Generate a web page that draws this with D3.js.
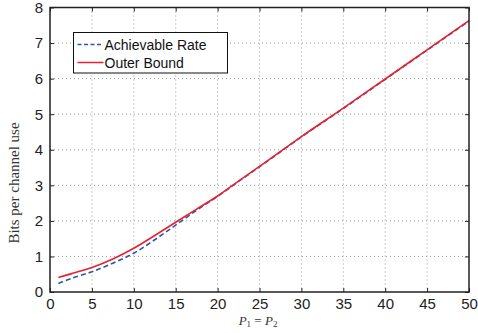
<!DOCTYPE html>
<html>
<head>
<meta charset="utf-8">
<script src="https://cdn.jsdelivr.net/npm/d3@7"></script>
<style>
  body { margin: 0; background: #fff; }
  svg { display: block; }
  .tick text { font-family: "Liberation Sans", Arial, sans-serif; font-size: 15px; fill: #222; }
</style>
</head>
<body>
<svg id="chart" width="478" height="333"></svg>
<script>
// power values (P1 = P2)
const power = [1, 2.5, 5, 7.5, 10, 12.5, 15, 17.5, 20, 22.5, 25, 30, 35, 40, 45, 50];
// bits per channel use
const achievableRate = [0.24, 0.38, 0.57, 0.81, 1.09, 1.47, 1.88, 2.30, 2.69, 3.11, 3.52, 4.36, 5.16, 5.98, 6.80, 7.62];
const outerBound = [0.41, 0.51, 0.69, 0.93, 1.23, 1.59, 1.96, 2.33, 2.70, 3.12, 3.53, 4.37, 5.17, 5.99, 6.81, 7.63];
const xTicks = [0, 5, 10, 15, 20, 25, 30, 35, 40, 45, 50];
const yTicks = [0, 1, 2, 3, 4, 5, 6, 7, 8];

const margin = { top: 7.5, right: 9, bottom: 41, left: 50 };
const width = 478 - margin.left - margin.right;
const height = 333 - margin.top - margin.bottom;

let svg = d3.select('#chart');
let g = svg.append('g').attr('transform', 'translate(' + margin.left + ',' + margin.top + ')');

let x = d3.scaleLinear().domain([0, 50]).range([0, width]);
let y = d3.scaleLinear().domain([0, 8]).range([height, 0]);

// dotted grid
g.append('g')
  .selectAll('line')
  .data(xTicks.slice(1, -1))
  .join('line')
    .attr('x1', d => x(d)).attr('x2', d => x(d))
    .attr('y1', 0).attr('y2', height)
    .attr('stroke', '#999').attr('stroke-width', 1)
    .attr('stroke-dasharray', '1,3');
g.append('g')
  .selectAll('line')
  .data(yTicks.slice(1, -1))
  .join('line')
    .attr('x1', 0).attr('x2', width)
    .attr('y1', d => y(d)).attr('y2', d => y(d))
    .attr('stroke', '#999').attr('stroke-width', 1)
    .attr('stroke-dasharray', '1,3');

// curves
let line = d3.line().curve(d3.curveCatmullRom.alpha(0.5));
let achievablePts = power.map((p, i) => [x(p), y(achievableRate[i])]);
let outerPts = power.map((p, i) => [x(p), y(outerBound[i])]);

g.append('path')
  .attr('d', line(achievablePts))
  .attr('fill', 'none')
  .attr('stroke', '#2e52b0')
  .attr('stroke-width', 1.6)
  .attr('stroke-dasharray', '5,3');

g.append('path')
  .attr('d', line(outerPts))
  .attr('fill', 'none')
  .attr('stroke', '#e8222c')
  .attr('stroke-width', 1.6);

// axes with inward ticks on all four sides
g.append('g')
  .attr('transform', 'translate(0,' + height + ')')
  .call(d3.axisBottom(x).tickValues(xTicks).tickSizeInner(-4).tickSizeOuter(0).tickPadding(6))
  .call(a => a.select('.domain').remove());
g.append('g')
  .call(d3.axisLeft(y).tickValues(yTicks).tickSizeInner(-4).tickSizeOuter(0).tickPadding(7))
  .call(a => a.select('.domain').remove());
g.append('g')
  .call(d3.axisTop(x).tickValues(xTicks).tickSizeInner(-4).tickSizeOuter(0).tickFormat(''))
  .call(a => a.select('.domain').remove());
g.append('g')
  .attr('transform', 'translate(' + width + ',0)')
  .call(d3.axisRight(y).tickValues(yTicks).tickSizeInner(-4).tickSizeOuter(0).tickFormat(''))
  .call(a => a.select('.domain').remove());
g.selectAll('.tick line').attr('stroke', '#222');

g.append('rect')
  .attr('width', width).attr('height', height)
  .attr('fill', 'none').attr('stroke', '#222').attr('stroke-width', 1.5);

// axis labels
svg.append('text')
  .attr('transform', 'translate(19,183) rotate(-90)')
  .attr('text-anchor', 'middle')
  .attr('font-family', '"Liberation Serif", "Times New Roman", serif')
  .attr('font-size', 15)
  .attr('fill', '#333')
  .text('Bits per channel use');

let xl = svg.append('text')
  .attr('x', 258).attr('y', 325)
  .attr('text-anchor', 'middle')
  .attr('font-family', '"Liberation Serif", "Times New Roman", serif')
  .attr('font-size', 13)
  .attr('fill', '#333');
xl.append('tspan').attr('font-style', 'italic').text('P');
xl.append('tspan').attr('font-size', 9).attr('dy', 2).text('1');
xl.append('tspan').attr('dy', -2).text(' = ');
xl.append('tspan').attr('font-style', 'italic').text('P');
xl.append('tspan').attr('font-size', 9).attr('dy', 2).text('2');

// legend
let legend = svg.append('g').attr('transform', 'translate(73.5,32.5)');
legend.append('rect')
  .attr('width', 154).attr('height', 40.5)
  .attr('fill', '#fff').attr('stroke', '#111').attr('stroke-width', 1);
let legendItems = [
  { label: 'Achievable Rate', color: '#2e52b0', dash: '4,2.5' },
  { label: 'Outer Bound', color: '#e8222c', dash: null },
];
legendItems.forEach((d, i) => {
  let yy = 12 + i * 18;
  legend.append('line')
    .attr('x1', 4).attr('x2', 30).attr('y1', yy).attr('y2', yy)
    .attr('stroke', d.color).attr('stroke-width', 1.5)
    .attr('stroke-dasharray', d.dash);
  legend.append('text')
    .attr('x', 31).attr('y', yy + 5)
    .attr('font-family', '"Liberation Sans", Arial, sans-serif')
    .attr('font-size', 14)
    .attr('fill', '#111')
    .text(d.label);
});
</script>
</body>
</html>
